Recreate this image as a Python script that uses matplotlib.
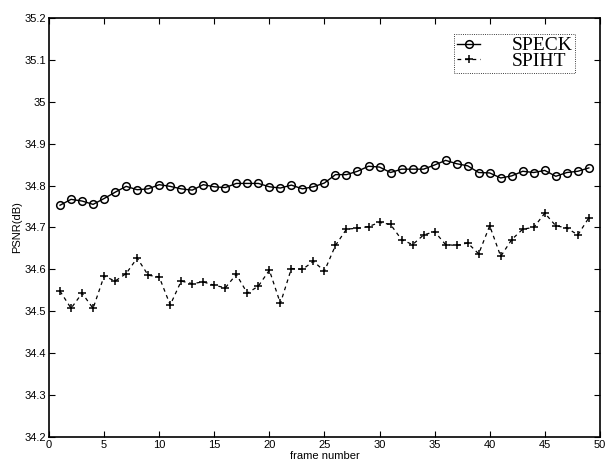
import matplotlib
matplotlib.use("Agg")
import matplotlib.pyplot as plt
from matplotlib.ticker import FormatStrFormatter, MultipleLocator

frames = list(range(1, 50))

speck = [34.753, 34.767, 34.763, 34.755, 34.769, 34.784, 34.798, 34.790, 34.792, 34.802,
         34.798, 34.792, 34.789, 34.802, 34.797, 34.795, 34.805, 34.805, 34.805, 34.797,
         34.794, 34.801, 34.792, 34.797, 34.806, 34.826, 34.826, 34.834, 34.846, 34.844,
         34.831, 34.839, 34.839, 34.839, 34.849, 34.860, 34.852, 34.847, 34.831, 34.830,
         34.818, 34.823, 34.834, 34.831, 34.836, 34.822, 34.831, 34.834, 34.842]

spiht = [34.548, 34.507, 34.543, 34.507, 34.584, 34.572, 34.590, 34.627, 34.586, 34.582,
         34.515, 34.572, 34.566, 34.570, 34.562, 34.556, 34.588, 34.543, 34.560, 34.598,
         34.519, 34.602, 34.600, 34.619, 34.596, 34.657, 34.696, 34.698, 34.702, 34.712,
         34.707, 34.671, 34.659, 34.682, 34.690, 34.659, 34.657, 34.663, 34.637, 34.704,
         34.631, 34.671, 34.696, 34.700, 34.734, 34.704, 34.699, 34.682, 34.723]

fig = plt.figure(figsize=(6.09, 4.70), dpi=100)
ax = fig.add_axes([0.0805, 0.0702, 0.9045, 0.8918])

ax.plot(frames, speck, '-o', color='black', lw=1.0, markersize=5.5,
        markerfacecolor='none', markeredgewidth=1.1, label='SPECK')
ax.plot(frames, spiht, '--+', color='black', lw=0.9, markersize=6,
        markeredgewidth=1.1, dashes=(3, 3), label='SPIHT')

ax.set_xlim(0, 50)
ax.set_ylim(34.2, 35.2)
ax.xaxis.set_major_locator(MultipleLocator(5))
ax.yaxis.set_major_locator(MultipleLocator(0.1))
ax.yaxis.set_major_formatter(FormatStrFormatter('%g'))
ax.tick_params(direction='in', top=True, right=True, length=4, width=0.8,
               labelsize=8, pad=2)
for lab in ax.get_xticklabels() + ax.get_yticklabels():
    lab.set_family('Liberation Sans')
for s in ax.spines.values():
    s.set_linewidth(1.2)

ax.set_xlabel('frame number', fontsize=8, family='Liberation Sans', labelpad=1)
ax.set_ylabel('PSNR(dB)', fontsize=8, family='Liberation Sans', labelpad=2)

leg = ax.legend(loc='upper right', bbox_to_anchor=(0.955, 0.962), borderaxespad=0,
                prop={'family': 'Liberation Serif', 'size': 14},
                handlelength=1.2, handletextpad=1.6, borderpad=0.15,
                labelspacing=-0.1, fancybox=False, framealpha=1)
leg.get_frame().set_edgecolor('black')
leg.get_frame().set_linewidth(0.6)
leg.get_frame().set_linestyle(':')

fig.savefig('out.png', dpi=100)
